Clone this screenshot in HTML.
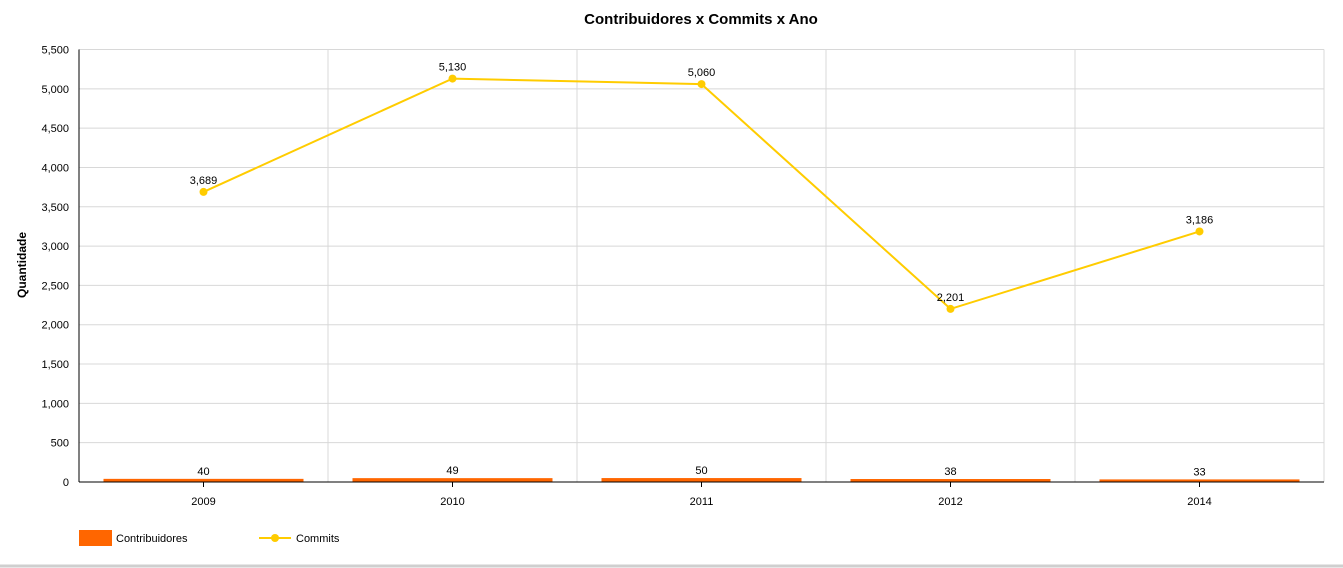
<!DOCTYPE html>
<html><head><meta charset="utf-8"><style>
body{margin:0;background:#fff;}
svg{display:block;font-family:"Liberation Sans",sans-serif;}
</style></head><body>
<svg id="chart" width="1343" height="568">
<rect x="0" y="0" width="1343" height="565" fill="#fff"/>
<line x1="0" y1="566" x2="1343" y2="566" stroke="#cfcfcf" stroke-width="3"/>
<text x="701" y="24" text-anchor="middle" font-size="15" font-weight="bold" fill="#000">Contribuidores x Commits x Ano</text>
<text transform="translate(26,265) rotate(-90)" text-anchor="middle" font-size="12" font-weight="bold" fill="#000">Quantidade</text>
<g id="grid"></g><g id="bars"></g><g id="line"></g><g id="axes"></g>
<g>
<rect x="79" y="530" width="33" height="16" fill="#ff6600"/>
<text x="116" y="542" font-size="11">Contribuidores</text>
<line x1="259" y1="538" x2="291" y2="538" stroke="#ffcc00" stroke-width="2"/>
<circle cx="275" cy="538" r="4" fill="#ffcc00"/>
<text x="296" y="542" font-size="11">Commits</text>
</g>
</svg>
<script>
const categories=["2009","2010","2011","2012","2014"];
const contribuidores=[40,49,50,38,33];
const commits=[3689,5130,5060,2201,3186];
const yTicks=[0,500,1000,1500,2000,2500,3000,3500,4000,4500,5000,5500];
const NS="http://www.w3.org/2000/svg";
const L=79,R=1324,T=49.5,B=482,yMax=5500;
const bw=(R-L)/categories.length;
const x=i=>L+bw*(i+0.5);
const y=v=>B-(B-T)*v/yMax;
const fmt=v=>v.toLocaleString("en-US");
function mk(p,tag,at){const e=document.createElementNS(NS,tag);for(const k in at)e.setAttribute(k,at[k]);document.getElementById(p).appendChild(e);return e;}
yTicks.forEach(t=>{
 if(t>0){const g=mk("grid","line",{x1:L,x2:R,y1:y(t),y2:y(t),stroke:"#d8d8d8"});
 
 }
 const lb=mk("axes","text",{x:L-10,y:y(t)+4,"text-anchor":"end","font-size":11});lb.textContent=fmt(t);
 
 
});
for(let i=1;i<=categories.length;i++){const g=mk("grid","line",{x1:L+bw*i,x2:L+bw*i,y1:T,y2:B,stroke:"#d8d8d8"});
 
 }
const ya=mk("axes","line",{x1:L,x2:L,y1:T,y2:B,stroke:"#000"});


const xa=mk("axes","line",{x1:L,x2:R,y1:B,y2:B,stroke:"#000"});


categories.forEach((c,i)=>{
 const tk=mk("axes","line",{x1:x(i),x2:x(i),y1:B,y2:B+5,stroke:"#000"});
 
 
 const lb=mk("axes","text",{x:x(i),y:B+23,"text-anchor":"middle","font-size":11});lb.textContent=c;
 
 
 const v=contribuidores[i];
 const b=mk("bars","rect",{x:x(i)-100,y:y(v),width:200,height:B-y(v),fill:"#ff6600"});
 
 
 const bl=mk("bars","text",{x:x(i),y:y(v)-4,"text-anchor":"middle","font-size":11});bl.textContent=fmt(v);
 
 
});
const pl=mk("line","polyline",{points:commits.map((v,i)=>x(i)+","+y(v)).join(" "),fill:"none",stroke:"#ffcc00","stroke-width":2});


commits.forEach((v,i)=>{
 const c=mk("line","circle",{cx:x(i),cy:y(v),r:4,fill:"#ffcc00"});
 
 
 const t=mk("line","text",{x:x(i),y:y(v)-8,"text-anchor":"middle","font-size":11});t.textContent=fmt(v);
 
 
});
</script>
</body></html>
